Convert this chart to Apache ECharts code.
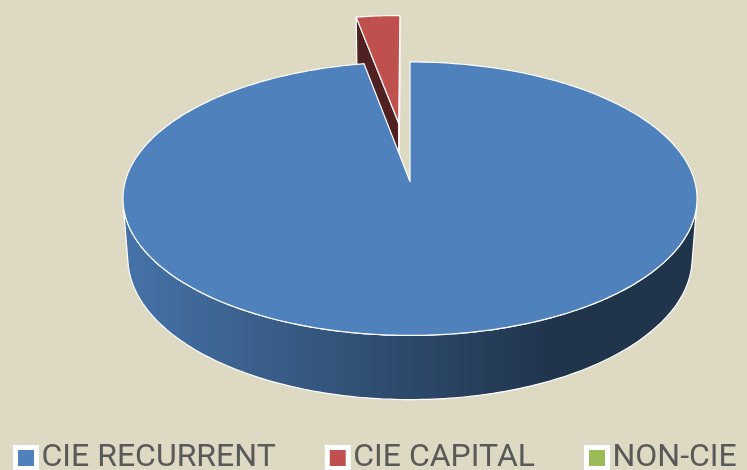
<!DOCTYPE html>
<html><head><meta charset="utf-8">
<script src="https://cdn.jsdelivr.net/npm/echarts@6/dist/echarts.min.js"></script>
<style>html,body{margin:0;padding:0;background:#DDD9C3}#c{width:747px;height:470px}</style>
</head><body><div id="c"></div>
<script>
// ---- data ----
const categories = ['CIE RECURRENT', 'CIE CAPITAL', 'NON-CIE'];
const values = [97.1, 2.9, 0];
const seriesColors = ['#4F81BD', '#C0504D', '#9BBB59'];

// ---- style (3D view of the pie) ----
const explode = [0, 0.46, 0];
const VIEW = { cx: 410, cy: 240.5, S: 280, tilt: 29.9 * Math.PI / 180, persp: 0.1416, h: 0.2386 };
const GRAD_X0 = 123, GRAD_X1 = 697;

function project(X, Y, Z) {
  const ct = Math.cos(VIEW.tilt), st = Math.sin(VIEW.tilt);
  const d = 1 + VIEW.persp * (Y * ct - Z * st);
  return [VIEW.cx + VIEW.S * X / d, VIEW.cy - VIEW.S * (Z * ct + Y * st) / d];
}
function shade(hex, k) {
  const n = parseInt(hex.slice(1), 16);
  const r = Math.round(((n >> 16) & 255) * k), g = Math.round(((n >> 8) & 255) * k), b = Math.round((n & 255) * k);
  return 'rgb(' + r + ',' + g + ',' + b + ')';
}
function signedArea(p) {
  let a = 0;
  for (let i = 0; i < p.length; i++) { const q = p[(i + 1) % p.length]; a += p[i][0] * q[1] - q[0] * p[i][1]; }
  return a / 2;
}

const total = values.reduce((a, b) => a + b, 0);
const starts = []; let acc = 0;
values.forEach(v => { starts.push(acc / total * 2 * Math.PI); acc += v; });

const EDGE = { stroke: '#ffffff', lineWidth: 1.2, lineJoin: 'round' };

function buildSlice(i, v) {
  if (!(v > 0)) return [];
  const s = starts[i], e = s + v / total * 2 * Math.PI, m = (s + e) / 2;
  const ox = explode[i] * Math.sin(m), oy = explode[i] * Math.cos(m);
  const n = Math.max(2, Math.ceil((e - s) / (Math.PI / 180)));
  const top = [], bot = [];
  for (let j = 0; j <= n; j++) {
    const t = s + (e - s) * j / n;
    top.push(project(ox + Math.sin(t), oy + Math.cos(t), VIEW.h));
    bot.push(project(ox + Math.sin(t), oy + Math.cos(t), 0));
  }
  const ct = project(ox, oy, VIEW.h), cb = project(ox, oy, 0);
  const base = seriesColors[i];
  const wallFill = {
    type: 'linear', x: GRAD_X0, y: 0, x2: GRAD_X1, y2: 0, global: true,
    colorStops: [
      { offset: 0, color: shade(base, 0.89) },
      { offset: 0.745, color: shade(base, 0.40) },
      { offset: 1, color: shade(base, 0.40) }
    ]
  };
  const children = [];
  // outer wall: visible runs
  let run = null;
  const runs = [];
  for (let j = 0; j < n; j++) {
    const quad = [top[j], top[j + 1], bot[j + 1], bot[j]];
    const vis = signedArea(quad) < 0;
    if (vis) { if (!run) { run = [j, j + 1]; runs.push(run); } else run[1] = j + 1; }
    else run = null;
  }
  runs.forEach(r => {
    const pts = [];
    for (let j = r[0]; j <= r[1]; j++) pts.push(top[j]);
    for (let j = r[1]; j >= r[0]; j--) pts.push(bot[j]);
    children.push({ type: 'polygon', shape: { points: pts }, style: Object.assign({ fill: wallFill }, EDGE) });
  });
  // radial faces
  const sf = [ct, top[0], bot[0], cb];
  if (signedArea(sf) < -1) children.push({ type: 'polygon', shape: { points: sf }, style: Object.assign({ fill: shade(base, 0.41) }, EDGE) });
  const ef = [ct, top[n], bot[n], cb];
  if (signedArea(ef) > 1) children.push({ type: 'polygon', shape: { points: ef }, style: Object.assign({ fill: shade(base, 0.41) }, EDGE) });
  // top face
  children.push({ type: 'polygon', shape: { points: [ct].concat(top) }, style: Object.assign({ fill: base }, EDGE) });
  return children;
}

// drawing order: far slices first
const order = values.map((v, i) => {
  const s = starts[i], e = s + v / total * 2 * Math.PI;
  return { i, far: Math.cos((s + e) / 2) };
}).sort((a, b) => b.far - a.far);
const zOf = {}; order.forEach((o, r) => { zOf[o.i] = 2 + r; });

const series = categories.map((name, i) => ({
  type: 'custom',
  name: name,
  coordinateSystem: 'none',
  z: zOf[i],
  silent: true,
  itemStyle: { color: seriesColors[i] },
  data: [[values[i]]],
  renderItem: function (params, api) {
    return { type: 'group', children: buildSlice(i, api.value(0)) };
  }
}));

const chart = echarts.init(document.getElementById('c'), null, { renderer: 'canvas' });
chart.setOption({
  backgroundColor: '#DDD9C3',
  animation: false,
  color: seriesColors,
  legend: {
    data: categories,
    left: 13, top: 442, padding: 0,
    itemWidth: 21, itemHeight: 21, itemGap: 49,
    icon: 'rect',
    selectedMode: false,
    itemStyle: { borderColor: '#ffffff', borderWidth: 5 },
    textStyle: { fontFamily: 'Roboto', fontSize: 32, lineHeight: 32, color: '#595959' }
  },
  series: series
});
</script>
</body></html>
